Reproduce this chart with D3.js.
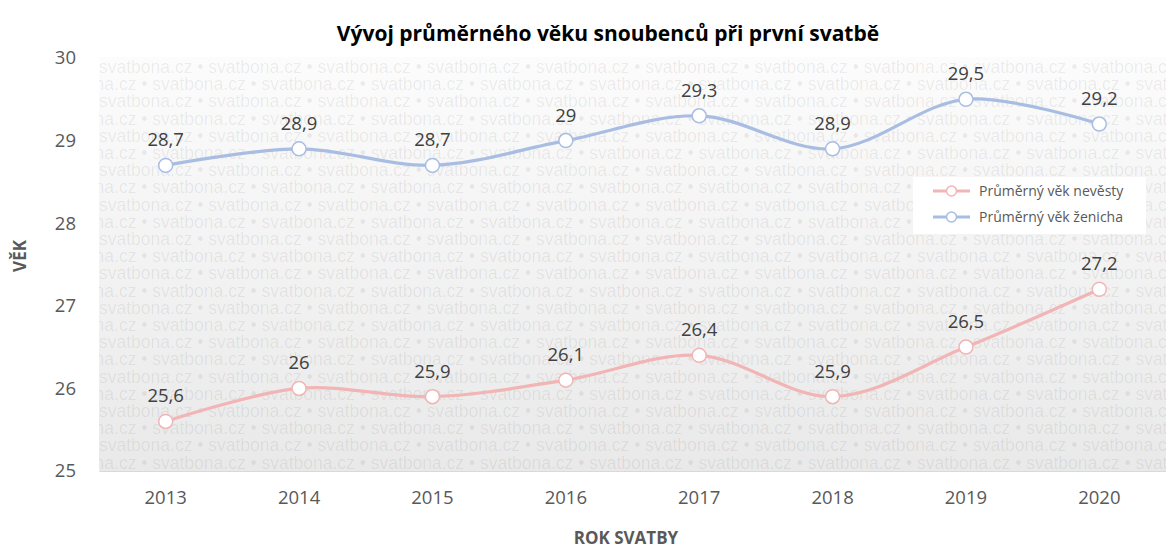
<!DOCTYPE html>
<html>
<head>
<meta charset="utf-8">
<script src="https://cdn.jsdelivr.net/npm/d3@7"></script>
<style>
  body { margin: 0; background: #fff; }
  text { font-family: "Open Sans", "Noto Sans", sans-serif; }
</style>
</head>
<body>
<svg id="chart" width="1166" height="547"></svg>
<script>
var years = ["2013", "2014", "2015", "2016", "2017", "2018", "2019", "2020"];
var brideAge = [25.6, 26.0, 25.9, 26.1, 26.4, 25.9, 26.5, 27.2];
var groomAge = [28.7, 28.9, 28.7, 29.0, 29.3, 28.9, 29.5, 29.2];
var yTicks = [25, 26, 27, 28, 29, 30];
var seriesNames = ["Průměrný věk nevěsty", "Průměrný věk ženicha"];
var seriesColors = ["#f2b5b5", "#a9bde3"];
var watermark = "svatbona.cz \u2022 ";

var svg = d3.select("#chart");
var plotL = 99, plotR = 1166, plotT = 57, plotB = 471;

var x = d3.scaleBand().domain(years).range([plotL, plotR]);
var y = d3.scaleLinear().domain([25, 30]).range([plotB, 58]);

// background gradient + watermark
var defs = svg.append("defs");
var grad = defs.append("linearGradient").attr("id", "bg")
    .attr("x1", 0).attr("y1", 0).attr("x2", 0).attr("y2", 1);
grad.append("stop").attr("offset", "0%").attr("stop-color", "#fcfcfc");
grad.append("stop").attr("offset", "100%").attr("stop-color", "#e9e9e9");
defs.append("clipPath").attr("id", "plotclip").append("rect")
    .attr("x", plotL).attr("y", plotT).attr("width", plotR - plotL).attr("height", plotB - plotT);

svg.append("rect")
    .attr("x", plotL).attr("y", plotT)
    .attr("width", plotR - plotL).attr("height", plotB - plotT)
    .attr("fill", "url(#bg)");

var wm = svg.append("g").attr("clip-path", "url(#plotclip)");
var rowH = 17.2;
for (var r = 0; r < 25; r++) {
    var s = "";
    for (var k = 0; k < 11; k++) s += watermark;
    wm.append("text")
        .attr("x", plotL + (r % 2 == 0 ? 0 : -56))
        .attr("y", plotT + 16 + r * rowH)
        .style("font-family", "'Liberation Sans', Arial, sans-serif")
        .style("font-size", "17.5px")
        .attr("fill", "#000")
        .attr("fill-opacity", 0.07)
        .attr("xml:space", "preserve")
        .text(s);
}

// title
svg.append("text")
    .attr("x", 608).attr("y", 41)
    .attr("text-anchor", "middle")
    .style("font-size", "21px").style("font-weight", "bold")
    .attr("fill", "#000")
    .text("Vývoj průměrného věku snoubenců při první svatbě");

// y axis labels
var yAxis = svg.append("g")
    .attr("transform", "translate(" + (plotL - 20) + ",0)")
    .call(d3.axisLeft(y).tickValues(yTicks).tickSize(0).tickFormat(d3.format("d")));
yAxis.select(".domain").remove();
yAxis.selectAll("text").style("font-size", "18.5px").attr("fill", "#595959")
    .style("font-family", "'Open Sans', sans-serif");

// x axis
var xAxis = svg.append("g")
    .attr("transform", "translate(0," + plotB + ")")
    .call(d3.axisBottom(x).tickSize(0).tickPadding(20));
xAxis.select(".domain").attr("stroke", "#d9d9d9");
xAxis.selectAll("text").style("font-size", "18.5px").attr("fill", "#595959")
    .style("font-family", "'Open Sans', sans-serif");

// axis titles
svg.append("text")
    .attr("transform", "translate(26,256) rotate(-90)")
    .attr("text-anchor", "middle")
    .style("font-size", "17px").style("font-weight", "bold")
    .attr("fill", "#595959")
    .text("VĚK");
svg.append("text")
    .attr("x", 626).attr("y", 544)
    .attr("text-anchor", "middle")
    .style("font-size", "17px").style("font-weight", "bold")
    .attr("fill", "#595959")
    .text("ROK SVATBY");

// series
var series = [brideAge, groomAge];
var line = d3.line()
    .x(function(d, i) { return x(years[i]) + x.bandwidth() / 2; })
    .y(function(d) { return y(d); })
    .curve(d3.curveCatmullRom.alpha(0.5));

series.forEach(function(vals, si) {
    svg.append("path")
        .datum(vals)
        .attr("d", line)
        .attr("fill", "none")
        .attr("stroke", seriesColors[si])
        .attr("stroke-width", 3.2);
    svg.selectAll(".pt" + si)
        .data(vals)
        .enter().append("circle")
        .attr("cx", function(d, i) { return x(years[i]) + x.bandwidth() / 2; })
        .attr("cy", function(d) { return y(d); })
        .attr("r", 7)
        .attr("fill", "#fff")
        .attr("stroke", seriesColors[si])
        .attr("stroke-width", 1.5);
    svg.selectAll(".lbl" + si)
        .data(vals)
        .enter().append("text")
        .attr("x", function(d, i) { return x(years[i]) + x.bandwidth() / 2; })
        .attr("y", function(d) { return y(d) - 19; })
        .attr("text-anchor", "middle")
        .style("font-size", "18.5px")
        .attr("fill", "#404040")
        .text(function(d) { return String(d3.format(".1~f")(d)).replace(".", ","); });
});

// legend
var lg = svg.append("g").attr("transform", "translate(913,177)");
lg.append("rect").attr("width", 233).attr("height", 57).attr("fill", "#fff");
seriesNames.forEach(function(name, i) {
    var yy = 14 + i * 26;
    lg.append("line").attr("x1", 20).attr("x2", 57).attr("y1", yy).attr("y2", yy)
        .attr("stroke", seriesColors[i]).attr("stroke-width", 3);
    lg.append("circle").attr("cx", 38.5).attr("cy", yy).attr("r", 5)
        .attr("fill", "#fff").attr("stroke", seriesColors[i]).attr("stroke-width", 1.5);
    lg.append("text").attr("x", 66).attr("y", yy + 5)
        .style("font-size", "14px").attr("fill", "#595959")
        .text(name);
});
</script>
</body>
</html>
